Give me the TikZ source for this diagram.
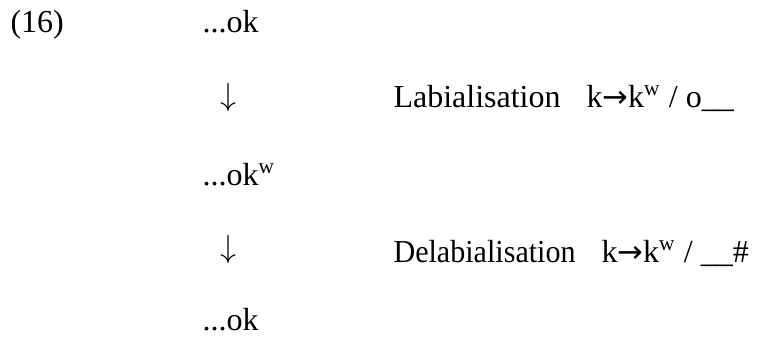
\documentclass[tikz,border=0pt]{standalone}
\usepackage{fontspec}
\setmainfont{Liberation Serif}
\newfontfamily\arrowfont{DejaVu Sans}
\usepackage{tikz}

\newcommand{\ruleto}{{\arrowfont\fontsize{11.5}{12}\selectfont →}}

\begin{document}
\begin{tikzpicture}[x=0.375pt, y=-0.375pt,
    every node/.style={inner sep=0pt, anchor=base west, font=\fontsize{12}{14}\selectfont}]
    \useasboundingbox (0,0) rectangle (758,347);
    % example number and the three forms
    \node (num) at (10,32) {(16)};
    \node (form1) at (202,32) {...ok};
    \node (form2) at (202,185) {...ok\textsuperscript{w}};
    \node (form3) at (202,330) {...ok};
    % derivation steps
    \foreach \n/\y in {1/97, 2/249}
        \node[anchor=center] (step\n) at (228,\y) {$\downarrow$};
    \node (name1) at (393,107) {Labialisation};
    \node (rule1) at (586,107) {k\ruleto k\textsuperscript{w} / o\_\_};
    \node (name2) at (393,262) {\scalebox{0.94}[1]{Delabialisation}};
    \node (rule2) at (601,262) {k\ruleto k\textsuperscript{w} / \_\_\#};
\end{tikzpicture}
\end{document}
